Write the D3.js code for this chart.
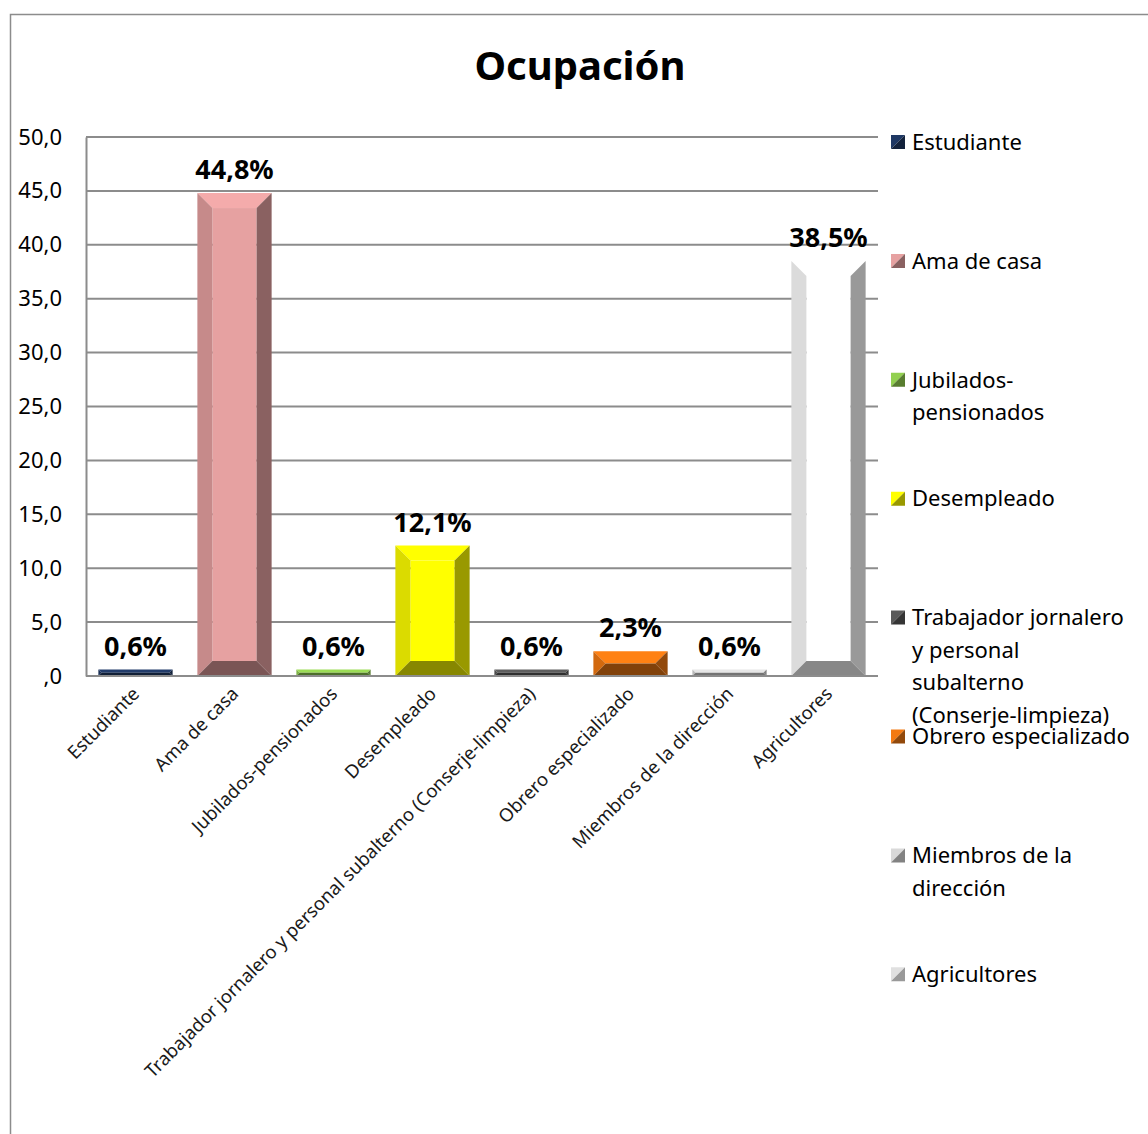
<!DOCTYPE html>
<html>
<head>
<meta charset="utf-8">
<script src="https://cdn.jsdelivr.net/npm/d3@7"></script>
<style>
  body { margin: 0; background: #fff; }
  text { font-family: "Noto Sans", "Open Sans", sans-serif; }
</style>
</head>
<body>
<div id="chart"></div>
<script>
// data
var categories = ["Estudiante", "Ama de casa", "Jubilados-pensionados", "Desempleado",
  "Trabajador jornalero y personal subalterno (Conserje-limpieza)",
  "Obrero especializado", "Miembros de la dirección", "Agricultores"];
var values = [0.6, 44.8, 0.6, 12.1, 0.6, 2.3, 0.6, 38.5];
var tickValues = [0, 5, 10, 15, 20, 25, 30, 35, 40, 45, 50];
var legendLines = [
  ["Estudiante"],
  ["Ama de casa"],
  ["Jubilados-", "pensionados"],
  ["Desempleado"],
  ["Trabajador jornalero", "y personal", "subalterno", "(Conserje-limpieza)"],
  ["Obrero especializado"],
  ["Miembros de la", "dirección"],
  ["Agricultores"]
];
var colors = ["#1f3864", "#e6a1a1", "#92d050", "#ffff00", "#595959", "#f47a12", "#d9d9d9", "#ffffff"];

var W = 1148, H = 1134;
var svg = d3.select("#chart").append("svg").attr("width", W).attr("height", H);

// outer chart frame (right/bottom are cut off)
svg.append("path").attr("d", "M10.5," + H + "V14.5H" + W)
  .attr("fill", "none").attr("stroke", "#8c8c8c").attr("stroke-width", 1.5);

svg.append("text").attr("x", 580).attr("y", 80).attr("text-anchor", "middle")
  .attr("font-size", 40).attr("font-weight", "bold").text("Ocupación");

var plotL = 86, plotR = 878, plotT = 137, plotB = 676;
var x = d3.scaleBand().domain(categories).range([plotL, plotR]).paddingInner(0.25).paddingOuter(0.125);
var y = d3.scaleLinear().domain([0, 50]).range([plotB, plotT]);

function fmt(v){ return v === 0 ? ",0" : v.toFixed(1).replace(".", ","); }

// gridlines
svg.append("g").selectAll("line").data(tickValues).enter().append("line")
  .attr("x1", plotL).attr("x2", plotR)
  .attr("y1", function(d){ return y(d); }).attr("y2", function(d){ return y(d); })
  .attr("stroke", "#8c8c8c").attr("stroke-width", 2);

// y axis
var yAxis = svg.append("g").attr("transform", "translate(" + plotL + ",0)")
  .call(d3.axisLeft(y).tickValues(tickValues).tickFormat(fmt).tickSize(0).tickPadding(24));
yAxis.select(".domain").attr("stroke", "#8c8c8c").attr("stroke-width", 2);
yAxis.selectAll("text").attr("font-size", 22).attr("fill", "#000")
  .style("font-family", "'Noto Sans', sans-serif");

function shade(c, k){
  var r = d3.rgb(c);
  return d3.rgb(Math.min(255, r.r * k), Math.min(255, r.g * k), Math.min(255, r.b * k)).toString();
}
function pts(a){ return a.map(function(p){ return p.join(","); }).join(" "); }

// beveled bars
var bars = svg.append("g").selectAll("g").data(values).enter().append("g");
bars.each(function(v, i){
  var g = d3.select(this);
  var x0 = x(categories[i]), x1 = x0 + x.bandwidth();
  var y0 = y(v), y1 = y(0);
  var b = Math.min(15, (y1 - y0) / 2, (x1 - x0) / 2);
  var c = colors[i];
  g.append("rect").attr("x", x0 + b).attr("y", y0 + b)
    .attr("width", x1 - x0 - 2 * b).attr("height", Math.max(0, y1 - y0 - 2 * b)).attr("fill", c);
  g.append("polygon").attr("points", pts([[x0,y0],[x1,y0],[x1-b,y0+b],[x0+b,y0+b]])).attr("fill", shade(c, 1.06));
  g.append("polygon").attr("points", pts([[x0,y0],[x0+b,y0+b],[x0+b,y1-b],[x0,y1]])).attr("fill", shade(c, 0.86));
  g.append("polygon").attr("points", pts([[x1,y0],[x1,y1],[x1-b,y1-b],[x1-b,y0+b]])).attr("fill", shade(c, 0.6));
  g.append("polygon").attr("points", pts([[x0,y1],[x0+b,y1-b],[x1-b,y1-b],[x1,y1]])).attr("fill", shade(c, 0.53));
});

// x axis baseline
svg.append("line").attr("x1", plotL).attr("x2", plotR).attr("y1", plotB).attr("y2", plotB)
  .attr("stroke", "#8c8c8c").attr("stroke-width", 2);

// value labels
svg.append("g").selectAll("text").data(values).enter().append("text")
  .attr("x", function(d, i){ return x(categories[i]) + x.bandwidth() / 2; })
  .attr("y", function(d){ return y(d) - 14; })
  .attr("text-anchor", "middle").attr("font-size", 27).attr("font-weight", "bold")
  .text(function(d){ return d.toFixed(1).replace(".", ",") + "%"; });

// category labels
svg.append("g").selectAll("text").data(categories).enter().append("text")
  .attr("transform", function(d){
    return "translate(" + (x(d) + x.bandwidth() / 2 + 5) + "," + 695 + ") rotate(-45)";
  })
  .attr("text-anchor", "end").attr("font-size", 18.5).attr("fill", "#1a1a1a").text(function(d){ return d; });

// legend
var leg = svg.append("g").selectAll("g").data(legendLines).enter().append("g")
  .attr("transform", function(d, i){ return "translate(891," + (142 + i * 118.9) + ")"; });
leg.each(function(lines, i){
  var g = d3.select(this);
  var c = colors[i], s = 14;
  g.append("polygon").attr("points", pts([[0,-s/2],[s,-s/2],[0,s/2]])).attr("fill", shade(c, i === 7 ? 0.88 : 1.0));
  g.append("polygon").attr("points", pts([[s,-s/2],[s,s/2],[0,s/2]])).attr("fill", shade(c, 0.6));
  g.selectAll("text").data(lines).enter().append("text")
    .attr("x", 21).attr("y", function(d, j){ return j * 32.5; })
    .attr("dy", "0.35em").attr("font-size", 22).text(function(d){ return d; });
});
</script>
</body>
</html>
